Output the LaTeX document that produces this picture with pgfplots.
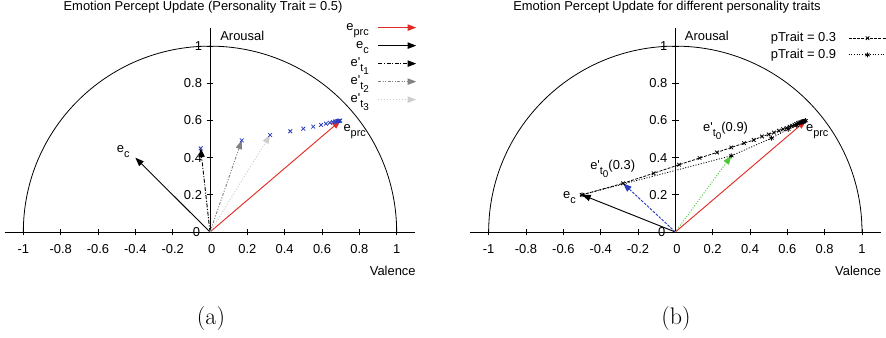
\documentclass[border=0pt]{standalone}
\usepackage{fontspec}
\usepackage{pgfplots}
\pgfplotsset{compat=1.18}
\usetikzlibrary{arrows.meta}
\newfontfamily\hv{Liberation Sans}
\newcommand\sub[1]{\raisebox{-3.4pt}{\fontsize{8.2}{9}\selectfont #1}}
\newcommand\subb[1]{\raisebox{-2.6pt}{\fontsize{7.4}{9}\selectfont #1}}
\definecolor{gred}{RGB}{228,42,36}
\definecolor{gblue}{RGB}{40,60,190}
\definecolor{ggreen}{RGB}{80,200,60}
\definecolor{gmid}{RGB}{130,130,130}
\definecolor{glight}{RGB}{205,205,205}
\pgfplotsset{
  polar/.style={
    axis lines=middle,
    x=140pt, y=139.4pt,
    xmin=-1.1, xmax=1.1, ymin=0, ymax=1.1,
    enlargelimits=false, clip=false,
    axis line style={-, line width=0.6pt},
    xtick={-1,-0.8,-0.6,-0.4,-0.2,0,0.2,0.4,0.6,0.8,1},
    xticklabels={-1,-0.8,-0.6,-0.4,-0.2,0,0.2,0.4,0.6,0.8,1},
    ytick={0,0.2,0.4,0.6,0.8,1},
    yticklabels={0,0.2,0.4,0.6,0.8,1},
    xticklabel shift=3.5pt,
    major tick length=5pt, tick align=center,
    tick style={black, line width=0.6pt},
    tick label style={font=\hv\fontsize{9.7}{11.6}\selectfont},
    /pgf/number format/assume math mode=true,
    legend cell align=right, legend plot pos=right,
  },
  arr/.style={-{Triangle[length=6.5pt,width=4.8pt]}, line width=0.7pt},
  zerolabels/.style={},
}
\begin{document}
\begin{tikzpicture}[font=\hv\fontsize{9.7}{11.6}\selectfont]
\useasboundingbox (0,0) rectangle (664.5pt,-252.75pt);
% ---------------- left -----------------
\begin{axis}[polar, at={(157.5pt,-174pt)}, anchor=origin,
  legend style={draw=none, fill=none, at={(1.004,1.045)}, anchor=north east,
    inner sep=0pt, row sep=0pt,
    nodes={inner sep=0pt, text height=9.15pt, text depth=4.35pt},
    /tikz/every odd column/.append style={column sep=6.75pt}},
  legend image code/.code={\draw[#1] (0pt,0pt) -- (28.5pt,0pt);},
]
\draw[line width=0.6pt] (axis cs:1,0) arc[start angle=0,end angle=180,x radius=140pt,y radius=139.4pt];
\addplot[arr, gred] coordinates {(0,0) (0.7,0.6)};
\addlegendentry{e\sub{prc}}
\addplot[arr, black] coordinates {(0,0) (-0.4,0.4)};
\addlegendentry{e\sub{c}}
\addplot[arr, black, dash pattern=on 3pt off 1.2pt on 0.8pt off 1.2pt] coordinates {(0,0) (-0.05,0.45)};
\addlegendentry{e'\sub{t\subb{1}}}
\addplot[arr, gmid, dash pattern=on 2pt off 1.2pt on 0.8pt off 1.2pt on 0.8pt off 1.2pt] coordinates {(0,0) (0.17,0.493)};
\addlegendentry{e'\sub{t\subb{2}}}
\addplot[arr, glight, dash pattern=on 0.8pt off 1.4pt] coordinates {(0,0) (0.322,0.522)};
\addlegendentry{e'\sub{t\subb{3}}}
\addplot[forget plot, only marks, mark=x, mark size=2pt, gblue, mark options={line width=0.6pt}] coordinates {
(-0.05,0.45) (0.17,0.493) (0.322,0.522) (0.43,0.542) (0.5,0.556) (0.553,0.567) (0.595,0.576) (0.621,0.583) (0.642,0.588) (0.658,0.592) (0.670,0.594) (0.679,0.596) (0.686,0.597) (0.690,0.598) (0.694,0.599) (0.697,0.599)};
\node[anchor=base west, inner sep=0pt] at (axis cs:0.054,1.031) {Arousal};
\node[anchor=base east, inner sep=0pt] at (axis cs:1.103,-0.232) {Valence};
\node[anchor=base west, inner sep=0pt] at (axis cs:0.714,0.54) {e\sub{prc}};
\node[anchor=base west, inner sep=0pt] at (axis cs:-0.5,0.427) {e\sub{c}};
\node[anchor=north, inner sep=0pt, xshift=1.2pt, yshift=-9pt] at (axis cs:0,0) {0};
\node[anchor=east, inner sep=0pt, xshift=-7.3pt] at (axis cs:0,0) {0};
\end{axis}
% ---------------- right -----------------
\begin{axis}[polar, at={(506.5pt,-174pt)}, anchor=origin,
  legend style={draw=none, fill=none, at={(1.016,0.99)}, anchor=north east,
    inner sep=0pt, row sep=0pt,
    nodes={inner sep=0pt, text height=8.65pt, text depth=3.85pt},
    /tikz/every odd column/.append style={column sep=9pt}},
  legend image code/.code={\draw[mark repeat=2,mark phase=2,#1] plot coordinates {(0pt,0pt) (14.25pt,0pt) (28.5pt,0pt)};},
]
\draw[line width=0.6pt] (axis cs:1,0) arc[start angle=0,end angle=180,x radius=140pt,y radius=139.4pt];
\addplot[black, line width=0.6pt, dash pattern=on 2.2pt off 1pt, mark=x, mark size=1.9pt, mark options={solid}] coordinates {
(-0.5,0.2) (-0.28,0.262) (-0.116,0.316) (0.02,0.362) (0.13,0.398) (0.223,0.428) (0.30,0.455) (0.368,0.478) (0.42,0.495) (0.464,0.514) (0.50,0.525) (0.528,0.535) (0.555,0.545) (0.577,0.553) (0.596,0.560) (0.612,0.567) (0.626,0.572) (0.638,0.577) (0.648,0.581) (0.657,0.585) (0.664,0.588) (0.670,0.590) (0.676,0.592) (0.681,0.594) (0.685,0.595) (0.689,0.597)};
\addlegendentry{pTrait = 0.3}
\addplot[black, line width=0.6pt, dash pattern=on 0.8pt off 1.2pt, mark=asterisk, mark size=1.9pt, mark options={solid}] coordinates {
(-0.5,0.2) (0.3,0.41) (0.515,0.505) (0.605,0.553) (0.65,0.573) (0.675,0.587) (0.688,0.594) (0.694,0.597) (0.697,0.599)};
\addlegendentry{pTrait = 0.9}
\addplot[forget plot, arr, gred] coordinates {(0,0) (0.7,0.6)};
\addplot[forget plot, arr, black] coordinates {(0,0) (-0.5,0.2)};
\addplot[forget plot, arr, gblue, dash pattern=on 2pt off 1pt] coordinates {(0,0) (-0.28,0.262)};
\addplot[forget plot, arr, ggreen, dash pattern=on 0.8pt off 1.2pt] coordinates {(0,0) (0.3,0.41)};
\node[anchor=base west, inner sep=0pt] at (axis cs:0.05,1.031) {Arousal};
\node[anchor=base east, inner sep=0pt] at (axis cs:1.103,-0.232) {Valence};
\node[anchor=base west, inner sep=0pt] at (axis cs:0.699,0.54) {e\sub{prc}};
\node[anchor=base west, inner sep=0pt] at (axis cs:-0.602,0.178) {e\sub{c}};
\node[anchor=base west, inner sep=0pt] at (axis cs:0.148,0.539) {e'\sub{t\subb{0}}(0.9)};
\node[anchor=base west, inner sep=0pt] at (axis cs:-0.457,0.334) {e'\sub{t\subb{0}}(0.3)};
\node[anchor=north, inner sep=0pt, xshift=1.2pt, yshift=-9pt] at (axis cs:0,0) {0};
\node[anchor=east, inner sep=0pt, xshift=-7.3pt] at (axis cs:0,0) {0};
\end{axis}
% titles and captions
\node[anchor=base, inner sep=0pt] at (152.25pt,-7.5pt) {Emotion Percept Update (Personality Trait = 0.5)};
\node[anchor=base, inner sep=0pt] at (500.25pt,-7.5pt) {Emotion Percept Update for different personality traits};
\node[anchor=base, inner sep=0pt, font=\rmfamily\fontsize{18}{20}\selectfont] at (158.25pt,-243.2pt) {(a)};
\node[anchor=base, inner sep=0pt, font=\rmfamily\fontsize{18}{20}\selectfont] at (507pt,-243.2pt) {(b)};
\end{tikzpicture}
\end{document}
